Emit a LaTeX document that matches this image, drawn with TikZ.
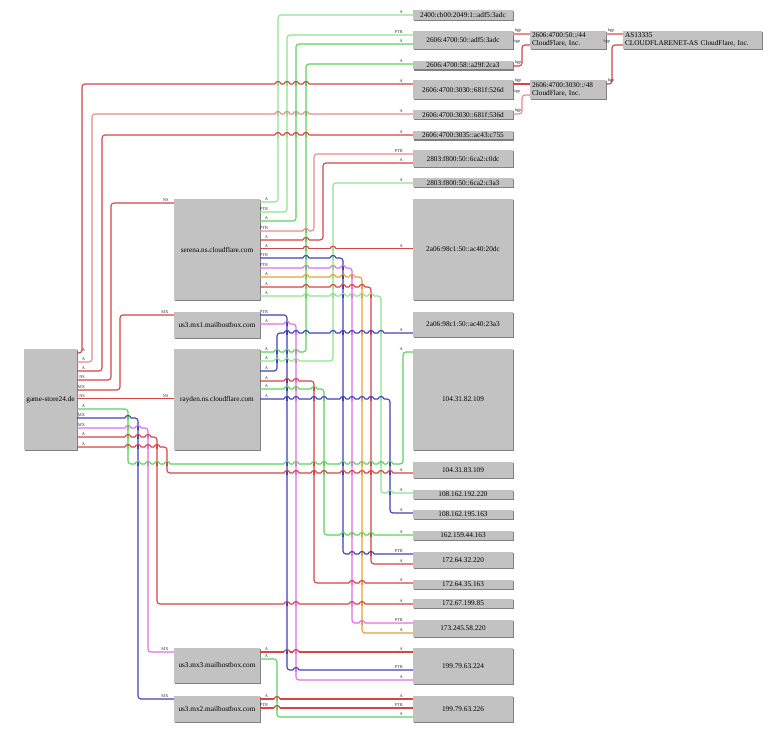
\documentclass[tikz,border=0pt]{standalone}
\usepackage{fontspec}
\setmainfont{Liberation Serif}
\usetikzlibrary{shadows}
\definecolor{boxgray}{HTML}{C3C2C3}
\definecolor{cR}{HTML}{D64545}
\definecolor{cRl}{HTML}{E98A8A}
\definecolor{cG}{HTML}{5CD35C}
\definecolor{cGl}{HTML}{8FE38F}
\definecolor{cB}{HTML}{4242B8}
\definecolor{cM}{HTML}{E071E0}
\definecolor{cO}{HTML}{E2A23A}
\definecolor{labgray}{HTML}{333333}
\newcommand{\boxfont}{\fontsize{7.3}{8}\selectfont}
\newcommand{\labfont}{\fontsize{4.4}{5}\selectfont}
\newcommand{\jmp}[4]{%
  \fill[white] ({#1-2.8},{#2-1.3}) rectangle ({#1+2.8},{#2+1.3});
  \draw[jw,#4] (#1,{#2-1.8}) -- (#1,{#2+1.8});
  \draw[jw,#3] ({#1-2.9},#2) .. controls ({#1-2.5},{#2-3.3}) and ({#1+2.5},{#2-3.3}) .. ({#1+2.9},#2);}
\newcommand{\jrow}[3]{\foreach \xx/\cc in {#3} {\jmp{\xx}{#1}{#2}{\cc}}}
\begin{document}
\begin{tikzpicture}[x=1bp,y=-1bp,
  box/.style={fill=boxgray, inner sep=0pt, font=\boxfont, align=center,
    drop shadow={shadow xshift=1.3bp, shadow yshift=-1.3bp, fill=black!50, opacity=1}},
  wire/.style={line width=1.15bp, rounded corners=3bp},
  jw/.style={line width=1.15bp},
  lab/.style={font=\labfont, inner sep=0.2pt, text=labgray},
  sl/.style={lab, anchor=south east, xshift=8.5bp, yshift=0.5bp},
  tl/.style={lab, anchor=south east, xshift=-9.3bp, yshift=0.5bp},
  tlm/.style={lab, anchor=south east, xshift=-4.5bp, yshift=0.5bp},
  bl/.style={lab, anchor=south west, xshift=0.8bp, yshift=0.5bp},
  bc/.style={lab, anchor=south east, xshift=-1bp, yshift=0.5bp}]
\fill[white] (0,0) rectangle (775,732);
\useasboundingbox (0,0) rectangle (775,732);

% right column
\node[box, minimum width=100bp, minimum height=10bp] (r1) at (463,15) {2400:cb00:2049:1::adf5:3adc};
\node[box, minimum width=100bp, minimum height=18bp] (r2) at (463,40) {2606:4700:50::adf5:3adc};
\node[box, minimum width=100bp, minimum height=8.6bp] (r3) at (463,65) {2606:4700:58::a29f:2ca3};
\node[box, minimum width=100bp, minimum height=19bp] (r4) at (463,89.5) {2606:4700:3030::681f:526d};
\node[box, minimum width=100bp, minimum height=9bp] (r5) at (463,114.5) {2606:4700:3030::681f:536d};
\node[box, minimum width=100bp, minimum height=8.6bp] (r6) at (463,135) {2606:4700:3035::ac43:c755};
\node[box, minimum width=100bp, minimum height=17bp] (r7) at (463,158.5) {2803:f800:50::6ca2:c0dc};
\node[box, minimum width=100bp, minimum height=9bp] (r8) at (463,182.5) {2803:f800:50::6ca2:c3a3};
\node[box, minimum width=100bp, minimum height=101bp] (r9) at (463,249.5) {2a06:98c1:50::ac40:20dc};
\node[box, minimum width=100bp, minimum height=25bp] (r10) at (463,324.5) {2a06:98c1:50::ac40:23a3};
\node[box, minimum width=100bp, minimum height=101bp] (r11) at (463,399.5) {104.31.82.109};
\node[box, minimum width=100bp, minimum height=16bp] (r12) at (463,470) {104.31.83.109};
\node[box, minimum width=100bp, minimum height=9bp] (r13) at (463,494.5) {108.162.192.220};
\node[box, minimum width=100bp, minimum height=9bp] (r14) at (463,514.5) {108.162.195.163};
\node[box, minimum width=100bp, minimum height=9bp] (r15) at (463,535.5) {162.159.44.163};
\node[box, minimum width=100bp, minimum height=16bp] (r16) at (463,560) {172.64.32.220};
\node[box, minimum width=100bp, minimum height=9bp] (r17) at (463,584.5) {172.64.35.163};
\node[box, minimum width=100bp, minimum height=9bp] (r18) at (463,603.5) {172.67.199.85};
\node[box, minimum width=100bp, minimum height=17bp] (r19) at (463,628.5) {173.245.58.220};
\node[box, minimum width=100bp, minimum height=36bp] (r20) at (463,666) {199.79.63.224};
\node[box, minimum width=100bp, minimum height=26bp] (r21) at (463,709) {199.79.63.226};

% middle column
\node[box, minimum width=86bp, minimum height=101bp] (ms) at (217,249.5) {serena.ns.cloudflare.com};
\node[box, minimum width=86bp, minimum height=26bp] (m1) at (217,325) {us3.mx1.mailhostbox.com};
\node[box, minimum width=86bp, minimum height=101bp] (my) at (217,399.5) {rayden.ns.cloudflare.com};
\node[box, minimum width=86bp, minimum height=35bp] (m3) at (217,665.5) {us3.mx3.mailhostbox.com};
\node[box, minimum width=86bp, minimum height=26bp] (m2) at (217,709) {us3.mx2.mailhostbox.com};

% left
\node[box, minimum width=53bp, minimum height=101bp] (g) at (50.5,399.5) {game-store24.de};

% prefixes / AS
\node[box, minimum width=76bp, minimum height=18bp, text width=72bp, align=left] (p1) at (568,40) {2606:4700:50::/44\\CloudFlare, Inc.};
\node[box, minimum width=76bp, minimum height=19bp, text width=72bp, align=left] (p2) at (568,89.5) {2606:4700:3030::/48\\CloudFlare, Inc.};
\node[box, minimum width=139bp, minimum height=18bp, text width=135bp, align=left] (as) at (692.5,40) {AS13335\\CLOUDFLARENET-AS CloudFlare, Inc.};

% game-store24.de
\draw[wire,cR] (g.east|-0,353) node[sl]{A} -- (82,353) -- (82,84) -- (r4.west|-0,84) node[tl]{A};
\draw[wire,cRl] (g.east|-0,362) node[sl]{A} -- (92,362) -- (92,114) -- (r5.west|-0,114) node[tl]{A};
\draw[wire,cR] (g.east|-0,371) node[sl]{A} -- (102,371) -- (102,135) -- (r6.west|-0,135) node[tl]{A};
\draw[wire,cR] (g.east|-0,380) node[sl]{NS} -- (111,380) -- (111,203) -- (ms.west|-0,203) node[tlm]{NS};
\draw[wire,cR] (g.east|-0,390) node[sl]{MX} -- (120,390) -- (120,315) -- (m1.west|-0,315) node[tlm]{MX};
\draw[wire,draw=cR] (g.east|-0,398.7) node[sl]{NS} -- (my.west|-0,398.7) node[tlm]{NS};
\draw[wire,cG] (g.east|-0,409) node[sl]{A} -- (128,409) -- (128,464) -- (403,464) -- (403,352) -- (r11.west|-0,352) node[tl]{A};
\draw[wire,cB] (g.east|-0,418) node[sl]{MX} -- (138,418) -- (138,699) -- (m2.west|-0,699) node[tlm]{MX};
\draw[wire,cM] (g.east|-0,428) node[sl]{MX} -- (148,428) -- (148,652) -- (m3.west|-0,652) node[tlm]{MX};
\draw[wire,cR] (g.east|-0,437) node[sl]{A} -- (157,437) -- (157,604) -- (r18.west|-0,604) node[tl]{A};
\draw[wire,cR] (g.east|-0,447) node[sl]{A} -- (167,447) -- (167,473) -- (r12.west|-0,473) node[tl]{A};

% serena
\draw[wire,cGl] (ms.east|-0,202) node[sl]{A} -- (278,202) -- (278,15) -- (r1.west|-0,15) node[tl]{A};
\draw[wire,cGl] (ms.east|-0,212) node[sl]{PTR} -- (287,212) -- (287,35) -- (r2.west|-0,35) node[tl]{PTR};
\draw[wire,cG] (ms.east|-0,221) node[sl]{A} -- (296,221) -- (296,44) -- (r2.west|-0,44) node[tl]{A};
\draw[wire,cRl] (ms.east|-0,231) node[sl]{PTR} -- (314,231) -- (314,154) -- (r7.west|-0,154) node[tl]{PTR};
\draw[wire,cR] (ms.east|-0,240) node[sl]{A} -- (323,240) -- (323,163) -- (r7.west|-0,163) node[tl]{A};
\draw[wire,draw=cR] (ms.east|-0,248.7) node[sl]{A} -- (r9.west|-0,248.7) node[tl]{A};
\draw[wire,cB] (ms.east|-0,258) node[sl]{PTR} -- (343,258) -- (343,554) -- (r16.west|-0,554) node[tl]{PTR};
\draw[wire,cM] (ms.east|-0,268) node[sl]{PTR} -- (352,268) -- (352,623) -- (r19.west|-0,623) node[tl]{PTR};
\draw[wire,cO] (ms.east|-0,277) node[sl]{A} -- (362,277) -- (362,633) -- (r19.west|-0,633) node[tl]{A};
\draw[wire,cR] (ms.east|-0,287) node[sl]{A} -- (371,287) -- (371,564) -- (r16.west|-0,564) node[tl]{A};
\draw[wire,cGl] (ms.east|-0,296) node[sl]{A} -- (381,296) -- (381,493) -- (r13.west|-0,493) node[tl]{A};

% rayden
\draw[wire,cG] (my.east|-0,352) node[sl]{A} -- (306,352) -- (306,64) -- (r3.west|-0,64) node[tl]{A};
\draw[wire,cGl] (my.east|-0,361) node[sl]{A} -- (333,361) -- (333,183) -- (r8.west|-0,183) node[tl]{A};
\draw[wire,cB] (my.east|-0,371) node[sl]{A} -- (277,371) -- (277,333) -- (r10.west|-0,333) node[tl]{A};
\draw[wire,cR] (my.east|-0,381) node[sl]{A} -- (314,381) -- (314,583) -- (r17.west|-0,583) node[tl]{A};
\draw[wire,cG] (my.east|-0,389) node[sl]{A} -- (324,389) -- (324,535) -- (r15.west|-0,535) node[tl]{A};
\draw[wire,cB] (my.east|-0,399) node[sl]{A} -- (390,399) -- (390,513) -- (r14.west|-0,513) node[tl]{A};

% mailhostbox
\draw[wire,cB] (m1.east|-0,315) node[sl]{PTR} -- (287,315) -- (287,670) -- (r20.west|-0,670) node[tl]{PTR};
\draw[wire,cM] (m1.east|-0,324) node[sl]{A} -- (296,324) -- (296,680) -- (r20.west|-0,680) node[tl]{A};
\draw[wire,cR] (m3.east|-0,652) node[sl]{A} -- (r20.west|-0,652) node[tl]{A};
\draw[wire,cG] (m3.east|-0,659) node[sl]{A} -- (277,659) -- (277,717) -- (r21.west|-0,717) node[tl]{A};
\draw[wire,cR] (m2.east|-0,699) node[sl]{A} -- (r21.west|-0,699) node[tl]{A};
\draw[wire,cR] (m2.east|-0,708) node[sl]{PTR} -- (r21.west|-0,708) node[tl]{PTR};

% bgp
\draw[wire,cRl] (r2.east|-0,34) node[bl]{bgp} -- (p1.west|-0,34);
\draw[wire,cR] (r3.east|-0,66) node[bl]{bgp} -- (522,66) -- (522,45) node[bc]{bgp} -- (p1.west|-0,45);
\draw[wire,cR] (r4.east|-0,84) node[bl]{bgp} -- (p2.west|-0,84);
\draw[wire,cRl] (r5.east|-0,114) node[bl]{bgp} -- (522,114) -- (522,95) node[bc]{bgp} -- (p2.west|-0,95);
\draw[wire,cRl] (p1.east|-0,34) node[bl]{bgp} -- (as.west|-0,34);
\draw[wire,cR] (p2.east|-0,84) node[bl]{bgp} -- (612,84) -- (612,45) node[bc]{bgp} -- (as.west|-0,45);

% line jumps
\jrow{84}{cR}{278/cGl,287/cGl,296/cG,306/cG}
\jrow{114}{cRl}{278/cGl,287/cGl,296/cG,306/cG}
\jrow{135}{cR}{278/cGl,287/cGl,296/cG,306/cG}
\jrow{231}{cRl}{306/cG}
\jrow{240}{cR}{306/cG}
\jrow{248.7}{cR}{306/cG,333/cGl}
\jrow{258}{cB}{306/cG,333/cGl}
\jrow{268}{cM}{306/cG,333/cGl,343/cB}
\jrow{277}{cO}{306/cG,333/cGl,343/cB,352/cM}
\jrow{287}{cR}{306/cG,333/cGl,343/cB,352/cM,362/cO}
\jrow{296}{cGl}{306/cG,333/cGl,343/cB,352/cM,362/cO,371/cR}
\jrow{324}{cM}{287/cB}
\jrow{333}{cB}{287/cB,296/cM,306/cG,333/cGl,343/cB,352/cM,362/cO,371/cR,381/cGl}
\jrow{352}{cG}{277/cB,287/cB,296/cM}
\jrow{361}{cGl}{277/cB,287/cB,296/cM}
\jrow{381}{cR}{287/cB,296/cM}
\jrow{389}{cG}{287/cB,296/cM,314/cR}
\jrow{399}{cB}{287/cB,296/cM,314/cR,324/cG,343/cB,352/cM,362/cO,371/cR,381/cGl}
\jrow{418}{cB}{128/cG}
\jrow{428}{cM}{128/cG,138/cB}
\jrow{437}{cR}{128/cG,138/cB,148/cM}
\jrow{447}{cR}{128/cG,138/cB,148/cM,157/cR}
\jrow{464}{cG}{138/cB,148/cM,157/cR,167/cR,287/cB,296/cM,314/cR,324/cG,343/cB,352/cM,362/cO,371/cR,381/cGl,390/cB}
\jrow{473}{cR}{287/cB,296/cM,314/cR,324/cG,343/cB,352/cM,362/cO,371/cR,381/cGl,390/cB}
\jrow{493}{cGl}{390/cB}
\jrow{535}{cG}{343/cB,352/cM,362/cO,371/cR}
\jrow{554}{cB}{352/cM,362/cO,371/cR}
\jrow{583}{cR}{352/cM,362/cO}
\jrow{604}{cR}{287/cB,296/cM,352/cM,362/cO}
\jrow{623}{cM}{362/cO}
\jrow{652}{cR}{287/cB,296/cM}
\jrow{670}{cB}{296/cM}
\jrow{699}{cR}{277/cG}
\jrow{708}{cR}{277/cG}
\end{tikzpicture}
\end{document}
